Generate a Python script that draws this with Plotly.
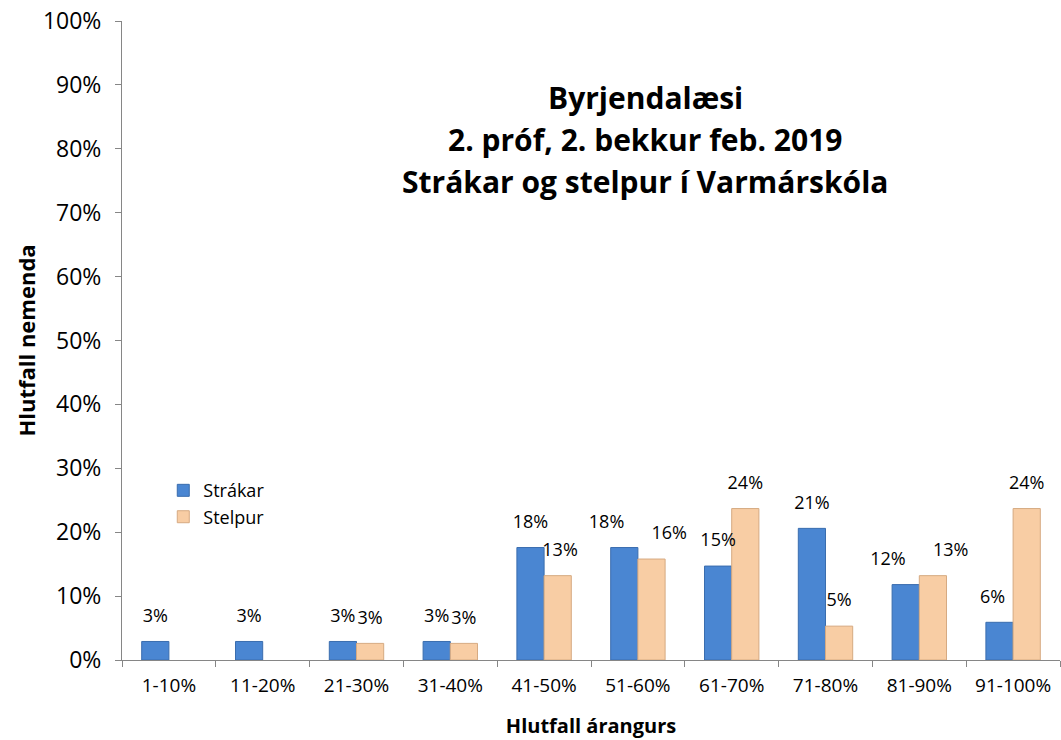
import plotly.graph_objects as go

categories = ["1-10%", "11-20%", "21-30%", "31-40%", "41-50%", "51-60%", "61-70%", "71-80%", "81-90%", "91-100%"]
strakar = [0.029, 0.029, 0.029, 0.029, 0.176, 0.176, 0.147, 0.206, 0.118, 0.059]
stelpur = [None, None, 0.026, 0.026, 0.132, 0.158, 0.237, 0.053, 0.132, 0.237]
y_ticks = [0, 0.1, 0.2, 0.3, 0.4, 0.5, 0.6, 0.7, 0.8, 0.9, 1.0]
title_lines = ["Byrjendalæsi", "2. próf, 2. bekkur feb. 2019", "Strákar og stelpur í Varmárskóla"]

# label placement (style): side-stepped where neighbouring labels would collide
strakar_pos = ["middle center"] * 5 + ["middle left"] + ["middle center"] * 2 + ["middle left", "middle center"]
stelpur_pos = ["middle center"] * 5 + ["middle right"] + ["middle center"] * 2 + ["middle right", "middle center"]
strakar_nudge = [0, 0, 0, 0, 0, 0, 0, 0, 0, -3]   # trailing non-breaking spaces
stelpur_nudge = [0, 0, 0, 0, 1, 0, 0, 0, 0, 0]    # leading non-breaking spaces

font_family = "'Open Sans', 'Noto Sans', sans-serif"
label_lift = 0.038  # labels sit a little above the bar end, as in the reference
NB = "\u00a0"


def label(v, n):
    if v is None:
        return None
    t = f"{round(v * 100)}%"
    return NB * n + t if n > 0 else t + NB * (-n)


series = [("Strákar", strakar, strakar_nudge, strakar_pos, "#4A86D2", "#3A6DAE", "s"),
          ("Stelpur", stelpur, stelpur_nudge, stelpur_pos, "#F8CDA4", "#D6AA82", "g")]

fig = go.Figure()
for name, vals, nudge, pos, col, lcol, grp in series:
    fig.add_trace(go.Bar(
        name=name, x=categories, y=vals, offsetgroup=grp,
        marker=dict(color=col, line=dict(color=lcol, width=1)),
    ))
for name, vals, nudge, pos, col, lcol, grp in series:
    fig.add_trace(go.Scatter(
        x=categories, y=[None if v is None else v + label_lift for v in vals],
        offsetgroup=grp, mode="text", showlegend=False, hoverinfo="skip",
        text=[label(v, n) for v, n in zip(vals, nudge)],
        textposition=pos, cliponaxis=False,
        textfont=dict(size=18, color="#000000", family=font_family),
    ))

fig.update_layout(
    width=1061, height=740,
    margin=dict(l=122, r=1, t=21, b=80, autoexpand=False),
    paper_bgcolor="white", plot_bgcolor="white",
    barmode="group", bargap=0.42, bargroupgap=0,
    scattermode="group", scattergap=0.42,
    font=dict(family=font_family, color="#000000"),
    showlegend=True,
    legend=dict(x=0.044, y=0.294, xanchor="left", yanchor="top",
                bgcolor="rgba(0,0,0,0)", font=dict(size=18),
                itemwidth=30, tracegroupgap=0),
)
fig.update_xaxes(
    showline=True, linecolor="#868686", linewidth=1,
    ticks="outside", tickson="boundaries", ticklen=6, tickcolor="#868686",
    tickfont=dict(size=19), ticklabelstandoff=8, showgrid=False, automargin=False,
    title=dict(text="<b>Hlutfall árangurs</b>", font=dict(size=20), standoff=22),
)
fig.update_yaxes(
    range=[0, 1], tickvals=y_ticks, tickformat=".0%", ticklabeloverflow="allow",
    showline=True, linecolor="#868686", linewidth=1,
    ticks="outside", ticklen=6, tickcolor="#868686",
    tickfont=dict(size=23), ticklabelstandoff=9, showgrid=False, zeroline=False, automargin=False,
    title=dict(text="<b>Hlutfall nemenda</b>", font=dict(size=22), standoff=1),
)
for line, ypos in zip(title_lines, [0.881, 0.815, 0.749]):
    fig.add_annotation(
        x=0.558, y=ypos, xref="paper", yref="paper", xanchor="center", yanchor="middle",
        text=f"<b>{line}</b>", showarrow=False, font=dict(size=30, color="#000000"),
    )
# remove the page's default body margin so the figure fills the 1061x740 view exactly
fig.write_html(
    "out.html",
    config={"displayModeBar": False},
    post_script="document.body.style.margin='0';document.body.style.overflow='hidden';",
)
